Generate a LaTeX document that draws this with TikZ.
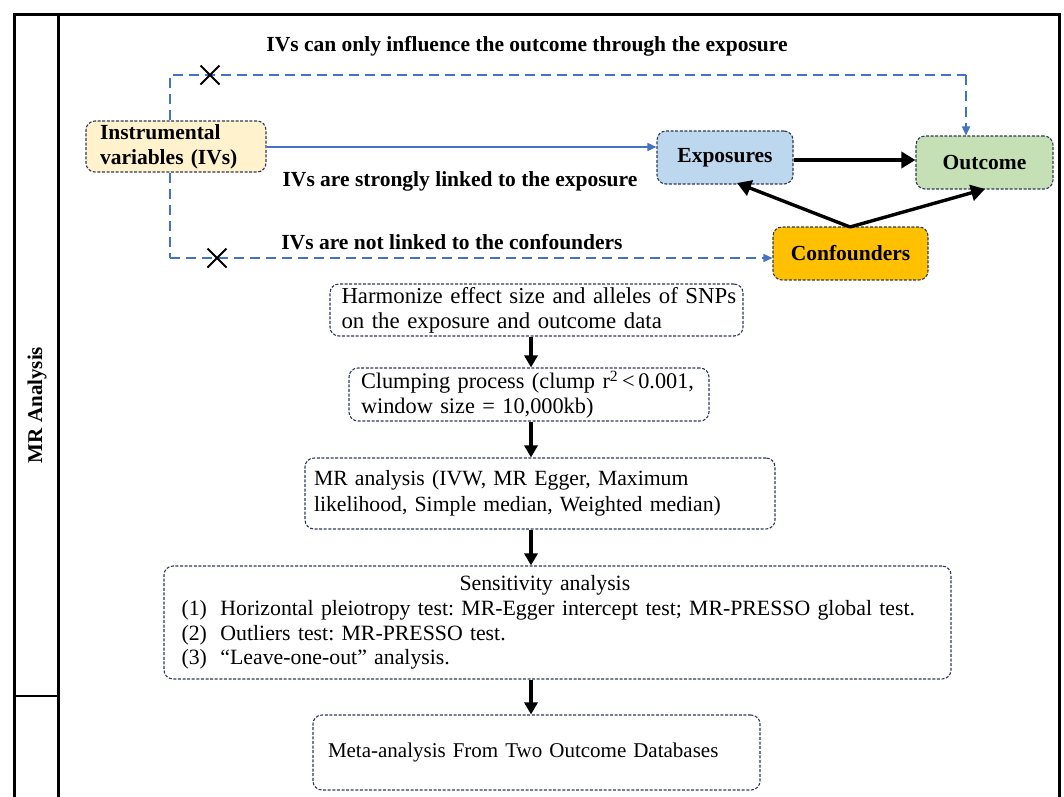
\documentclass[tikz,border=0pt]{standalone}
\usepackage{fontspec}
\setmainfont{Liberation Serif}
\usetikzlibrary{arrows.meta}
\definecolor{boxline}{HTML}{2F3B55}
\definecolor{ivfill}{HTML}{FFF2CC}
\definecolor{expfill}{HTML}{BDD7EE}
\definecolor{outfill}{HTML}{C5E0B4}
\definecolor{conffill}{HTML}{FFC000}
\definecolor{linkblue}{HTML}{4472C4}
\frenchspacing
\begin{document}
\begin{tikzpicture}[x=1pt,y=-1pt,
  box/.style={draw=boxline, line width=1.1pt, dash pattern=on 3pt off 1.6pt,
    rounded corners=9pt, inner sep=0pt, anchor=center},
  bfont/.style={font=\fontsize{21.5}{25}\selectfont\bfseries},
  nfont/.style={font=\fontsize{21}{25}\selectfont},
  thick arrow/.style={line width=3.4pt, -{Triangle[length=14pt,width=16pt]}},
  flow arrow/.style={line width=3.4pt, -{Triangle[length=12pt,width=13pt]}},
  blue dash/.style={draw=linkblue, line width=1.6pt, dash pattern=on 10pt off 6pt},
  blue tip/.style={-{Triangle[length=9pt,width=8pt]}},
  crossmark/.style={line width=1.8pt},
  frame/.style={line width=3.5pt}
]
\useasboundingbox (0,0) rectangle (1064,796);

% frame
\draw[frame] (14.5,800) -- (14.5,14.5) -- (1059.5,14.5) -- (1059.5,800);
\draw[frame] (58.5,14.5) -- (58.5,800);
\draw[line width=2pt] (14.5,696) -- (58.5,696);
\node[rotate=90, font=\fontsize{21}{25}\selectfont\bfseries] (mr) at (37,405) {MR Analysis};

% top nodes
\node[box, fill=ivfill, minimum width=180pt, minimum height=51pt, text width=152pt, align=left, bfont]
  (iv) at (176,146.5) {Instrumental\\variables (IVs)};
\node[box, fill=expfill, minimum width=136pt, minimum height=53pt, bfont] (exp) at (725,157.5) {Exposures};
\node[box, fill=outfill, minimum width=137pt, minimum height=53pt, bfont] (out) at (984.5,162.5) {Outcome};
\node[box, fill=conffill, minimum width=155pt, minimum height=53pt, bfont] (conf) at (850.5,253.5) {Confounders};

% labels
\node[bfont] (l1) at (527,46) {IVs can only influence the outcome through the exposure};
\node[bfont] (l2) at (460,181) {IVs are strongly linked to the exposure};
\node[bfont] (l3) at (452,242) {IVs are not linked to the confounders};

% IV links
\draw[linkblue, line width=1.6pt, blue tip] (iv.east |- 0,147) -- (exp.west |- 0,147);
\coordinate (tl) at (170,75);
\coordinate (tr) at (966,75);
\coordinate (bl) at (170,258);
\draw[blue dash] (iv.north -| tl) -- (tl) -- (tr);
\draw[blue dash, blue tip] (tr) -- (out.north -| tr);
\draw[blue dash] (iv.south -| bl) -- (bl);
\draw[blue dash, blue tip] (bl) -- (conf.west |- bl);
% crosses
\coordinate (c1) at (210,75);
\coordinate (c2) at (217,258);
\draw[crossmark] ([shift={(-9.5,-9.5)}]c1) -- ([shift={(9.5,9.5)}]c1) ([shift={(-9.5,9.5)}]c1) -- ([shift={(9.5,-9.5)}]c1);
\draw[crossmark] ([shift={(-9.5,-9.5)}]c2) -- ([shift={(9.5,9.5)}]c2) ([shift={(-9.5,9.5)}]c2) -- ([shift={(9.5,-9.5)}]c2);

% black arrows
\draw[thick arrow] (exp.east |- 0,160) -- (out.west |- 0,160);
\coordinate (ct) at (850,227);
\draw[thick arrow] (ct) -- (737,183);
\draw[thick arrow] (ct) -- (985,189);

% flow
\node[box, minimum width=413pt, minimum height=52pt, text width=406pt, align=left,
  font=\fontsize{22.8}{25}\selectfont]
  (harm) at (536.5,310) {\hspace*{8pt}Harmonize effect size and alleles of SNPs\\\hspace*{8pt}on the exposure and outcome data};
\node[box, minimum width=360pt, minimum height=53pt, text width=352pt, align=left,
  font=\fontsize{22.3}{25}\selectfont]
  (clump) at (529,394.5) {\hspace*{8pt}Clumping process (clump r\textsuperscript{2}\,<\,0.001,\\\hspace*{8pt}window size = 10,000kb)};
\node[box, minimum width=470pt, minimum height=71pt, text width=452pt, align=left,
  font=\fontsize{21.7}{26}\selectfont]
  (mra) at (540,493.5) {MR analysis (IVW, MR Egger, Maximum\\likelihood, Simple median, Weighted median)};
\node[box, minimum width=787pt, minimum height=113pt, text width=752pt, align=left,
  font=\fontsize{21.8}{24.7}\selectfont]
  (sens) at (557.5,622.5) {\hspace*{278pt}Sensitivity analysis\\
  \makebox[39pt][l]{(1)}Horizontal pleiotropy test: MR-Egger intercept test; MR-PRESSO global test.\\
  \makebox[39pt][l]{(2)}Outliers test: MR-PRESSO test.\\
  \makebox[39pt][l]{(3)}``Leave-one-out'' analysis.};
\node[box, minimum width=447pt, minimum height=75pt, text width=417pt, align=left, nfont]
  (meta) at (536.5,752.5) {Meta-analysis From Two Outcome Databases};

\draw[flow arrow] (harm.south -| 531,0) -- (clump.north -| 531,0);
\draw[flow arrow] (clump.south -| 531,0) -- (mra.north -| 531,0);
\draw[flow arrow] (mra.south -| 531,0) -- (sens.north -| 531,0);
\draw[flow arrow] (sens.south -| 531,0) -- (meta.north -| 531,0);
\end{tikzpicture}
\end{document}
